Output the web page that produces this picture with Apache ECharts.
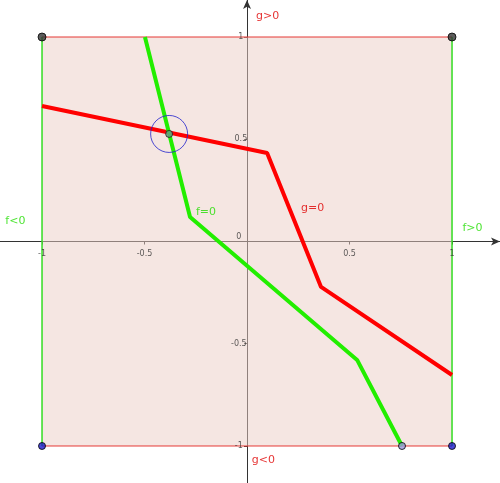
<!DOCTYPE html><html><head><meta charset="utf-8"><script src="https://cdn.jsdelivr.net/npm/echarts@6/dist/echarts.min.js"></script>
<style>html,body{margin:0;background:#fff}#c{width:500px;height:483px}</style></head><body><div id="c"></div><script>
const tickValues=[-1,-0.5,0,0.5,1];
const redLine=[[-1,0.663],[0.098,0.433],[0.361,-0.222],[1,-0.653]];
const greenLine=[[-0.498,1],[-0.278,0.12],[0.537,-0.579],[0.756,-1]];
const intersection=[[-0.38,0.526]];
const topCorners=[[-1,1],[1,1]];
const bottomCorners=[[-1,-1],[1,-1],[0.756,-1]];
const redLabels=[{value:[0.1,1.1],t:'g>0'},{value:[0.08,-1.07],t:'g<0'},{value:[0.32,0.165],t:'g=0'}];
const greenLabels=[{value:[-1.13,0.1],t:'f<0'},{value:[1.1,0.065],t:'f>0'},{value:[-0.2,0.145],t:'f=0'}];
const ch=echarts.init(document.getElementById('c'));
const ax={type:'value',splitLine:{show:false},axisLine:{onZero:true,symbol:['none','arrow'],symbolSize:[6,9],lineStyle:{color:'#333',width:1}},
 axisTick:{customValues:tickValues,length:3,lineStyle:{color:'#333'}},axisLabel:{show:false}};
const txt=(data,color,fs)=>({type:'scatter',symbolSize:0,data,label:{show:true,position:'inside',formatter:p=>p.data.t,color,fontSize:fs||11,fontFamily:'DejaVu Sans'},z:10});
const xTickLabels=tickValues.filter(v=>v!==0).map(v=>({value:[v,-0.06],t:String(v)}));
const yTickLabels=tickValues.filter(v=>v!==0).map(v=>({value:[v<0?-0.04:-0.03,v],t:String(v)}));
ch.setOption({animation:false,
 grid:{left:0,right:0,top:0,bottom:0,containLabel:false,outerBoundsMode:'none'},
 xAxis:Object.assign({},ax,{min:-1.205,max:1.234}),
 yAxis:Object.assign({},ax,{min:-1.181,max:1.181}),
 series:[
  {type:'line',data:[[-1,1],[1,1]],symbol:'none',lineStyle:{color:'#e53935',width:1},
   markArea:{silent:true,itemStyle:{color:'rgba(235,205,198,0.5)'},data:[[{coord:[-1,-1]},{coord:[1,1]}]]}},
  {type:'line',data:[[-1,-1],[1,-1]],symbol:'none',lineStyle:{color:'#e53935',width:1}},
  {type:'line',data:[[-1,-1],[-1,1]],symbol:'none',lineStyle:{color:'#33dd22',width:1.5}},
  {type:'line',data:[[1,-1],[1,1]],symbol:'none',lineStyle:{color:'#33dd22',width:1.5}},
  {type:'line',data:redLine,symbol:'none',lineStyle:{color:'#ff0000',width:4},z:3},
  {type:'line',data:greenLine,symbol:'none',lineStyle:{color:'#22ee00',width:4},z:3},
  {type:'scatter',data:intersection,symbolSize:37,itemStyle:{color:'none',borderColor:'#2222cc',borderWidth:1},z:5},
  {type:'scatter',data:intersection,symbolSize:7,itemStyle:{color:'#6a9a8a',borderColor:'#222',borderWidth:1},z:6},
  {type:'scatter',data:topCorners,symbolSize:8,itemStyle:{color:'#333',borderColor:'#000'},z:6},
  {type:'scatter',data:bottomCorners,symbolSize:7,itemStyle:{color:p=>p.dataIndex===2?'#9999dd':'#1a1acc',borderColor:'#000',borderWidth:1},z:6},
  txt(redLabels,'#e00000'),txt(greenLabels,'#22dd00'),
  txt(xTickLabels,'#333',8),txt(yTickLabels,'#333',8),
  txt([{value:[-0.04,0.02],t:'0'}],'#333',8)
 ]});
</script></body></html>
